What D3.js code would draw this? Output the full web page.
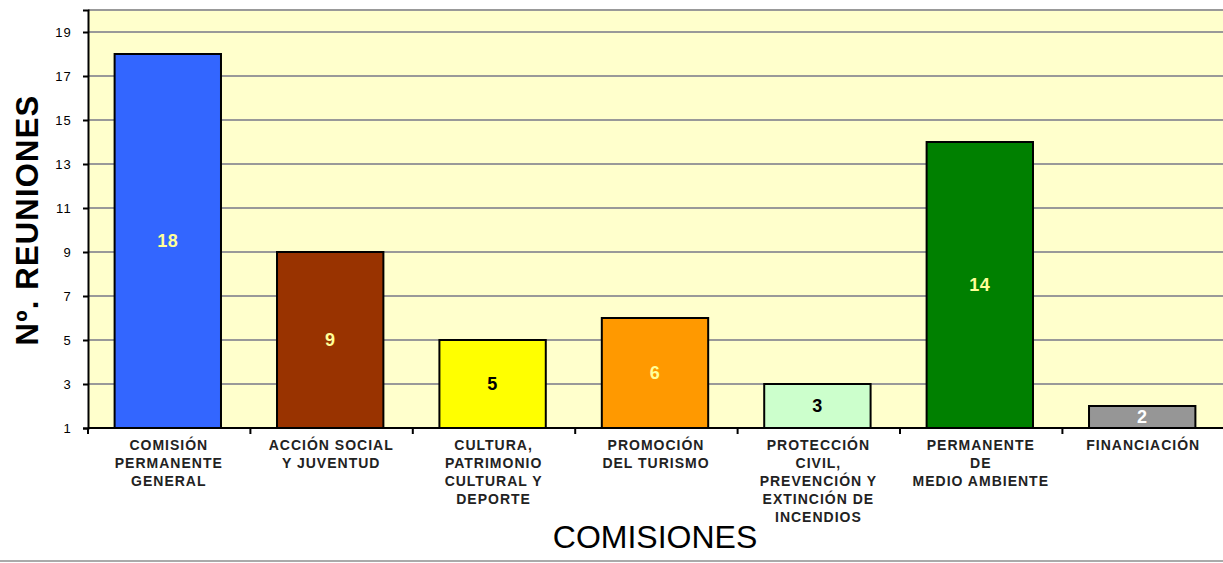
<!DOCTYPE html>
<html>
<head>
<meta charset="utf-8">
<script src="https://cdn.jsdelivr.net/npm/d3@7"></script>
<style>
  body { margin: 0; background: #fff; }
  text { font-family: "Liberation Sans", Arial, sans-serif; }
</style>
</head>
<body>
<div id="chart"></div>
<script>
// chart data
var categories = [
  ["COMISIÓN", "PERMANENTE", "GENERAL"],
  ["ACCIÓN SOCIAL", "Y JUVENTUD"],
  ["CULTURA,", "PATRIMONIO", "CULTURAL Y", "DEPORTE"],
  ["PROMOCIÓN", "DEL TURISMO"],
  ["PROTECCIÓN", "CIVIL,", "PREVENCIÓN Y", "EXTINCIÓN DE", "INCENDIOS"],
  ["PERMANENTE", "DE", "MEDIO AMBIENTE"],
  ["FINANCIACIÓN"]
];
var reuniones = [18, 9, 5, 6, 3, 14, 2];
var yTicks = [1, 3, 5, 7, 9, 11, 13, 15, 17, 19];

var barColors = ["#3366ff", "#993300", "#ffff00", "#ff9900", "#ccffcc", "#008000", "#969696"];
var labelColors = ["#ffff99", "#ffff99", "#000000", "#ffff99", "#000000", "#ffff99", "#ffffff"];

var svgWidth = 1223;
var svgHeight = 563;

var margin = { top: 10, right: 0, bottom: 135, left: 88 };
var chartWidth = 1224 - margin.left;
var chartHeight = svgHeight - margin.top - margin.bottom;

var svg = d3.select("#chart")
  .append("svg")
  .attr("width", svgWidth)
  .attr("height", svgHeight);

var chartGroup = svg.append("g")
  .attr("transform", `translate(${margin.left}, ${margin.top})`);

var xScale = d3.scaleBand()
  .domain(d3.range(categories.length))
  .range([0, chartWidth])
  .paddingInner(0.345)
  .paddingOuter(0.17);

var yScale = d3.scaleLinear()
  .domain([1, 20])
  .range([chartHeight, 0]);

// plot background
chartGroup.append("rect")
  .attr("width", chartWidth)
  .attr("height", chartHeight)
  .attr("fill", "#ffffcc");

// gridlines
chartGroup.selectAll(".grid")
  .data(yTicks.slice(1).concat([20]))
  .enter()
  .append("line")
  .attr("x1", 0)
  .attr("x2", chartWidth)
  .attr("y1", d => yScale(d))
  .attr("y2", d => yScale(d))
  .attr("stroke", "#999999")
  .attr("stroke-width", 2);

// bars
chartGroup.selectAll(".bar")
  .data(reuniones)
  .enter()
  .append("rect")
  .attr("x", (d, i) => xScale(i) - 1)
  .attr("y", d => yScale(d))
  .attr("width", xScale.bandwidth())
  .attr("height", d => yScale(1) - yScale(d))
  .attr("fill", (d, i) => barColors[i])
  .attr("stroke", "#000")
  .attr("stroke-width", 2);

// value labels
chartGroup.selectAll(".val")
  .data(reuniones)
  .enter()
  .append("text")
  .attr("x", (d, i) => xScale(i) + xScale.bandwidth() / 2 - 1)
  .attr("y", d => (yScale(d) + yScale(1)) / 2)
  .attr("dy", "0.36em")
  .attr("text-anchor", "middle")
  .attr("font-size", "18px")
  .attr("font-weight", "bold")
  .attr("letter-spacing", "0.5px")
  .attr("fill", (d, i) => labelColors[i])
  .text(d => d);

// y axis
var leftAxis = d3.axisLeft(yScale)
  .tickValues(yTicks)
  .tickSize(5)
  .tickPadding(11);

var yAxis = chartGroup.append("g").call(leftAxis);
yAxis.select(".domain").attr("stroke", "#000").attr("stroke-width", 2);
yAxis.selectAll(".tick line").attr("stroke", "#000").attr("stroke-width", 2);
yAxis.selectAll(".tick text")
  .attr("font-size", "13px")
  .attr("letter-spacing", "1.2px")
  .attr("font-family", "Liberation Sans, Arial, sans-serif")
  .attr("fill", "#000");

// x axis
var step = xScale.step();
chartGroup.append("line")
  .attr("x1", 0).attr("x2", chartWidth)
  .attr("y1", chartHeight).attr("y2", chartHeight)
  .attr("stroke", "#000").attr("stroke-width", 2);

chartGroup.selectAll(".xtick")
  .data(d3.range(categories.length))
  .enter()
  .append("line")
  .attr("x1", d => xScale(d) - step * 0.17)
  .attr("x2", d => xScale(d) - step * 0.17)
  .attr("y1", chartHeight)
  .attr("y2", chartHeight + 6)
  .attr("stroke", "#000")
  .attr("stroke-width", 2);

// category labels
var catLabels = chartGroup.selectAll(".cat")
  .data(categories)
  .enter()
  .append("text")
  .attr("text-anchor", "middle")
  .attr("font-size", "14px")
  .attr("font-weight", "bold")
  .attr("letter-spacing", "1px")
  .attr("fill", "#222");

catLabels.selectAll("tspan")
  .data((d, i) => d.map(line => ({ line: line, i: i })))
  .enter()
  .append("tspan")
  .attr("x", d => xScale(d.i) + xScale.bandwidth() / 2)
  .attr("y", (d, j) => chartHeight + 22 + j * 18)
  .text(d => d.line);

// axis titles
svg.append("text")
  .attr("transform", "rotate(-90)")
  .attr("x", -220)
  .attr("y", 38)
  .attr("text-anchor", "middle")
  .attr("font-size", "31px")
  .attr("font-weight", "bold")
  .attr("letter-spacing", "1.2px")
  .attr("fill", "#000")
  .text("Nº. REUNIONES");

svg.append("text")
  .attr("x", 655)
  .attr("y", 548)
  .attr("text-anchor", "middle")
  .attr("font-size", "32px")
  .attr("fill", "#000")
  .text("COMISIONES");

// frame line at bottom
svg.append("line")
  .attr("x1", 0).attr("x2", svgWidth)
  .attr("y1", 561).attr("y2", 561)
  .attr("stroke", "#aaaaaa")
  .attr("stroke-width", 2);
</script>
</body>
</html>
